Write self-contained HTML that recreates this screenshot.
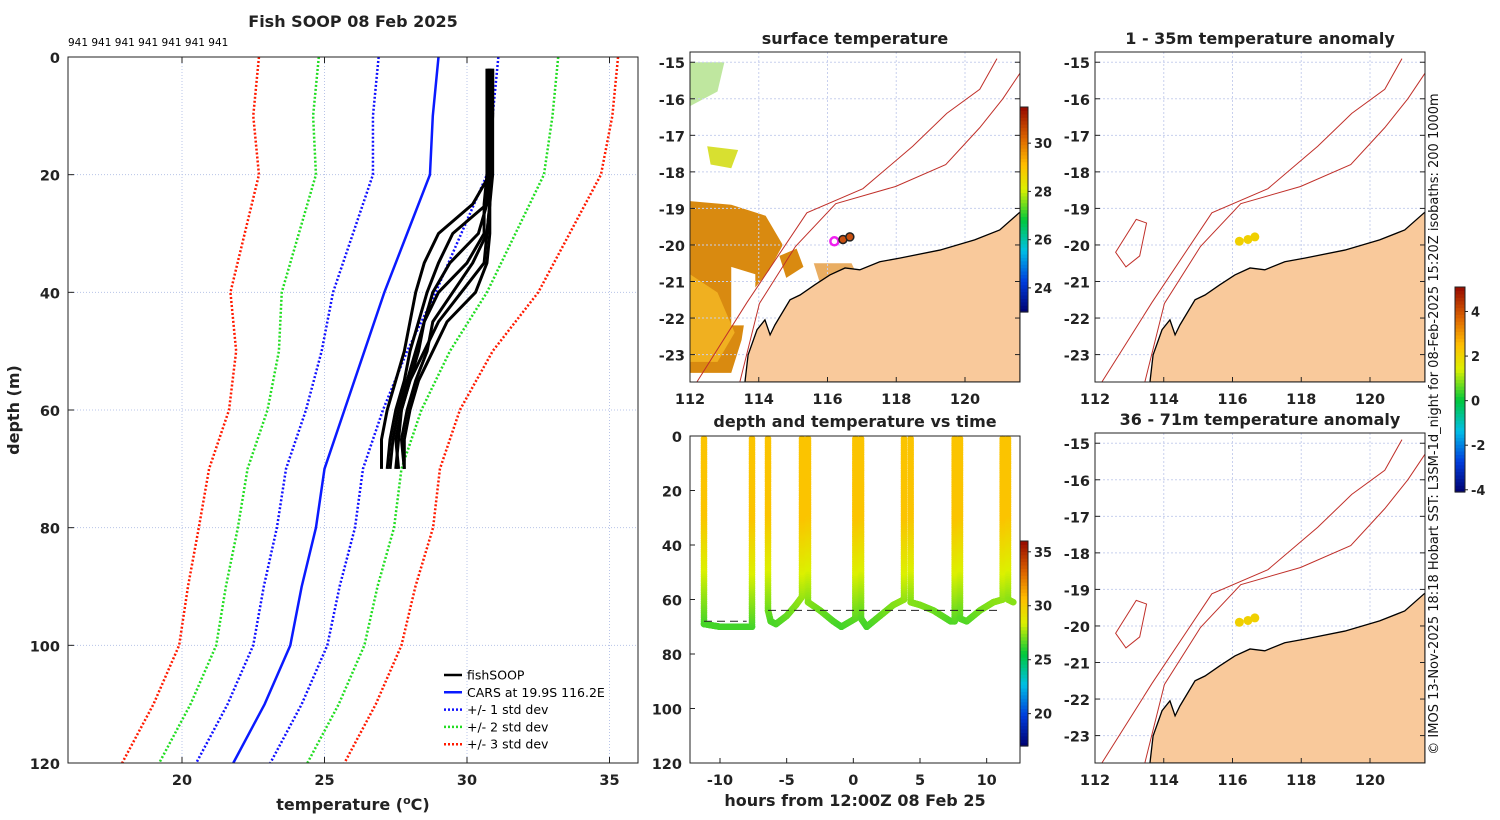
<!DOCTYPE html>
<html><head><meta charset="utf-8"><style>
body{margin:0;background:#fff;width:1500px;height:820px;overflow:hidden}
svg{display:block;font-family:"DejaVu Sans","Liberation Sans",sans-serif}
.t{font-weight:bold;font-size:16px;fill:#222}
.tk{font-weight:bold;font-size:14.5px;fill:#222}
</style></head><body>
<svg id="fig" width="1500" height="820" xmlns="http://www.w3.org/2000/svg"></svg>
<script>
// ---------- profile panel data ----------
const carsDepth=[0,10,20,30,40,50,60,70,80,90,100,110,120];
const carsMean=[29.0,28.8,28.7,27.9,27.1,26.4,25.7,25.0,24.7,24.2,23.8,22.9,21.8];
const carsStd=[2.1,2.1,2.0,1.9,1.8,1.5,1.35,1.35,1.37,1.33,1.3,1.3,1.3];
const profDepth=[2,10,20,25,30,35,40,45,50,55,60,65,70];
const prof1=[30.7,30.8,30.8,30.7,29.5,29.0,28.6,28.3,28.0,27.8,27.5,27.3,27.2];
const prof2=[30.8,30.8,30.7,30.6,30.6,30.0,29.0,28.5,28.2,27.9,27.6,27.4,27.3];
const prof3=[30.9,30.9,30.8,30.8,30.7,30.6,29.8,29.0,28.5,28.0,27.7,27.5,27.6];
const prof4=[30.8,30.8,30.8,30.2,29.0,28.5,28.2,28.0,27.8,27.5,27.2,27.0,27.0];
const prof5=[30.9,30.9,30.9,30.8,30.8,30.7,30.3,29.3,28.8,28.3,28.0,27.8,27.8];
const prof6=[30.7,30.7,30.7,30.7,30.4,29.4,28.8,28.5,28.3,28.0,27.7,27.6,27.5];
const prof7=[30.8,30.8,30.8,30.8,30.7,30.2,29.5,28.8,28.6,28.2,27.9,27.7,27.8];
const tempTicks=[20,25,30,35];
const depthTicks=[0,20,40,60,80,100,120];
// ---------- time-series data ----------
const tsHours=[-11.2,-11.2,-10,-8.5,-7.6,-7.6,-6.4,-6.4,-6.2,-5.8,-5,-4.3,-3.85,-3.85,-3.4,-3.4,-2.5,-1.5,-0.9,0.15,0.15,0.58,0.58,1.0,2,3,3.8,3.8,4.3,4.3,5,6,7.3,7.6,7.6,8.0,8.0,8.5,9.5,10.5,11.2,11.2,11.6,11.6,12];
const tsDepth=[1,69,70,70,70,1,1,64,68,69,66,62,59,1,1,61,64,68,70,67,1,1,67,70,66,62,60,1,1,61,62,64,68,68,1,1,67,68,64,61,60,1,1,60,61];
const hourTicks=[-10,-5,0,5,10];
const tsDepthTicks=[0,20,40,60,80,100,120];
// ---------- map data ----------
const lonTicks=[112,114,116,118,120];
const latTicks=[-15,-16,-17,-18,-19,-20,-21,-22,-23];
const coastLon=[113.6,113.69,113.95,114.18,114.33,114.47,114.91,115.2,115.63,116.07,116.51,116.94,117.52,118.1,119.27,120.28,121.01,121.6];
const coastLat=[-23.74,-23.01,-22.32,-22.05,-22.46,-22.19,-21.5,-21.37,-21.09,-20.82,-20.63,-20.68,-20.46,-20.36,-20.14,-19.86,-19.59,-19.1];
const iso200Lon=[113.45,114.02,115.07,116.24,117.98,119.44,120.43,121.1,121.6];
const iso200Lat=[-23.75,-21.6,-20.04,-18.87,-18.4,-17.8,-16.79,-16.0,-15.3];
const iso1000Lon=[112.2,113.66,115.4,117.03,118.48,119.47,120.43,120.93];
const iso1000Lat=[-23.75,-21.57,-19.12,-18.46,-17.3,-16.4,-15.74,-14.9];
const shipLon=[116.2,116.45,116.65];
const shipLat=[-19.9,-19.85,-19.78];
const cbSST=[24,26,28,30];
const cbTS=[20,25,30,35];
const cbAnom=[-4,-2,0,2,4];

const S=document.getElementById('fig');const NS='http://www.w3.org/2000/svg';
function el(tag,at,parent){const e=document.createElementNS(NS,tag);for(const k in at)e.setAttribute(k,at[k]);(parent||S).appendChild(e);return e;}
function txt(x,y,s,cls,anchor,parent){const e=el('text',{x:x,y:y,class:cls,'text-anchor':anchor||'middle'},parent);e.textContent=s;return e;}

const stops=[[0,[0,0,110]],[0.15,[0,60,220]],[0.3,[0,190,230]],[0.45,[0,200,60]],[0.6,[220,240,0]],[0.72,[255,190,0]],[0.85,[220,100,0]],[1,[150,10,0]]];
function cmap(f){f=Math.max(0,Math.min(1,f));for(let i=1;i<stops.length;i++){if(f<=stops[i][0]){const a=stops[i-1],b=stops[i];const u=(f-a[0])/(b[0]-a[0]);const c=a[1].map((v,j)=>Math.round(v+(b[1][j]-v)*u));return `rgb(${c})`;}}return 'rgb(150,10,0)';}
function colorbar(x,y,w,h,vmin,vmax,ticks,name){
  const g=el('g',{});
  const n=60;for(let i=0;i<n;i++){el('rect',{x:x,y:y+h-(i+1)*h/n,width:w,height:h/n+0.6,fill:cmap((i+0.5)/n)},g);}
  el('rect',{x:x,y:y,width:w,height:h,fill:'none',stroke:'#222','stroke-width':1},g);
  ticks.forEach(t=>{const yy=y+h-(t-vmin)/(vmax-vmin)*h;el('line',{x1:x+w,x2:x+w+3,y1:yy,y2:yy,stroke:'#222'},g);txt(x+w+6,yy+5,t,'tk','start',g).setAttribute('style','font-size:13px');});
}

// ================= LEFT PROFILE PANEL =================
const L={x0:68,x1:638,y0:57,y1:763,tmin:16,tmax:36,dmax:120};
const tx=t=>L.x0+(t-L.tmin)/(L.tmax-L.tmin)*(L.x1-L.x0);
const dy=d=>L.y0+d/L.dmax*(L.y1-L.y0);
txt(353,27,'Fish SOOP 08 Feb 2025','t');
const sn=txt(68,46,'941 941 941 941 941 941 941','','start');sn.setAttribute('style','font-size:10.5px');
const gl=el('g',{});
tempTicks.forEach(t=>el('line',{x1:tx(t),x2:tx(t),y1:L.y0,y2:L.y1,stroke:'#b8c4e8','stroke-dasharray':'1 2'},gl));
depthTicks.forEach(d=>el('line',{x1:L.x0,x2:L.x1,y1:dy(d),y2:dy(d),stroke:'#b8c4e8','stroke-dasharray':'1 2'},gl));
function pl(ts,ds,col,w,dash,name){const p=el('polyline',{points:ts.map((t,i)=>tx(t)+','+dy(ds[i])).join(' '),fill:'none',stroke:col,'stroke-width':w,'stroke-dasharray':dash||'none','stroke-linejoin':'round'});return p;}
[[3,'#ff1a00','std3'],[2,'#22dd22','std2'],[1,'#1010ff','std1']].forEach(([k,c,n])=>{
  pl(carsMean.map((m,i)=>m-k*carsStd[i]),carsDepth,c,2.5,'2 2',n+'-minus-line');
  pl(carsMean.map((m,i)=>m+k*carsStd[i]),carsDepth,c,2.5,'2 2',n+'-plus-line');
});
pl(carsMean,carsDepth,'#0a1aff',2.5,null,'cars-mean-line');
[prof1,prof2,prof3,prof4,prof5,prof6,prof7].forEach((p,i)=>pl(p,profDepth,'#000',3,null,'fishsoop-profile-'+(i+1)));
el('rect',{x:L.x0,y:L.y0,width:L.x1-L.x0,height:L.y1-L.y0,fill:'none',stroke:'#222'});
tempTicks.forEach(t=>{el('line',{x1:tx(t),x2:tx(t),y1:L.y0,y2:L.y0+6,stroke:'#222'});el('line',{x1:tx(t),x2:tx(t),y1:L.y1,y2:L.y1-6,stroke:'#222'});txt(tx(t),785,t,'tk');});
depthTicks.forEach(d=>{el('line',{x1:L.x0,x2:L.x0+6,y1:dy(d),y2:dy(d),stroke:'#222'});txt(60,dy(d)+6,d,'tk','end');});
const xl=el('text',{x:353,y:810,class:'t','text-anchor':'middle'});xl.innerHTML='temperature (<tspan dy="-6" font-size="11">o</tspan><tspan dy="6">C)</tspan>';
const yl=txt(0,0,'depth (m)','t');yl.setAttribute('transform','translate(19,410) rotate(-90)');
const lg=el('g',{});
[['fishSOOP','#000',null],['CARS at 19.9S 116.2E','#0a1aff',null],['+/- 1 std dev','#1010ff','2 2'],['+/- 2 std dev','#22dd22','2 2'],['+/- 3 std dev','#ff1a00','2 2']].forEach(([s,c,d],i)=>{
  const y=675+i*17.3;const e=el('g',{},lg);
  el('line',{x1:444,x2:462,y1:y,y2:y,stroke:c,'stroke-width':2.5,'stroke-dasharray':d||'none'},e);
  txt(467,y+4.5,s,'','start',e).setAttribute('style','font-size:12.5px');
});

// ================= MAPS =================
const MW=330,MH=330,LON0=112,LON1=121.6,LAT0=-14.72,LAT1=-23.75;
function mapPanel(ox,oy,title,name,kind){
  const g=el('g',{});
  const X=lo=>ox+(lo-LON0)/(LON1-LON0)*MW, Y=la=>oy+(la-LAT0)/(LAT1-LAT0)*MH;
  txt(ox+MW/2,oy-8,title,'t','middle',g);
  const cp='clip'+name;const c=el('clipPath',{id:cp},g);el('rect',{x:ox,y:oy,width:MW,height:MH},c);
  const inner=el('g',{'clip-path':`url(#${cp})`},g);
  if(kind==='sst'){
    const sg=el('g',{},inner);
    el('path',{d:`M${X(112)} ${Y(-18.8)} L${X(113.2)} ${Y(-18.9)} L${X(114.2)} ${Y(-19.2)} L${X(114.7)} ${Y(-20)} L${X(114.3)} ${Y(-20.7)} L${X(113.7)} ${Y(-21.4)} L${X(113.5)} ${Y(-22.6)} L${X(113.2)} ${Y(-23.5)} L${X(112)} ${Y(-23.5)} Z`,fill:'#d98a10'},sg);
    el('path',{d:`M${X(112)} ${Y(-20.8)} L${X(112.8)} ${Y(-21.3)} L${X(113.3)} ${Y(-22.4)} L${X(112.8)} ${Y(-23.2)} L${X(112)} ${Y(-23.2)} Z`,fill:'#f0b020'},sg);
    el('path',{d:`M${X(113.2)} ${Y(-20.6)} L${X(113.9)} ${Y(-20.8)} L${X(113.9)} ${Y(-22.2)} L${X(113.2)} ${Y(-22.2)} Z`,fill:'#fff'},sg);
    el('path',{d:`M${X(112.5)} ${Y(-17.3)} L${X(113.4)} ${Y(-17.4)} L${X(113.2)} ${Y(-17.9)} L${X(112.6)} ${Y(-17.8)} Z`,fill:'#d8e030'},sg);
    el('path',{d:`M${X(114.6)} ${Y(-20.3)} L${X(115.1)} ${Y(-20.1)} L${X(115.3)} ${Y(-20.6)} L${X(114.8)} ${Y(-20.9)} Z`,fill:'#d98a10'},sg);
    el('path',{d:`M${X(115.6)} ${Y(-20.5)} L${X(116.7)} ${Y(-20.5)} L${X(116.9)} ${Y(-20.9)} L${X(115.8)} ${Y(-21.1)} Z`,fill:'#e08a20','opacity':0.7},sg);
    el('path',{d:`M${X(112)} ${Y(-15)} L${X(113)} ${Y(-15)} L${X(112.8)} ${Y(-15.8)} L${X(112)} ${Y(-16.2)} Z`,fill:'#80d040','opacity':0.5},sg);
  }
  const grid=el('g',{},inner);
  lonTicks.forEach(l=>el('line',{x1:X(l),x2:X(l),y1:oy,y2:oy+MH,stroke:'#c8d0ee','stroke-dasharray':'2 2'},grid));
  latTicks.forEach(l=>el('line',{x1:ox,x2:ox+MW,y1:Y(l),y2:Y(l),stroke:'#c8d0ee','stroke-dasharray':'2 2'},grid));
  const land=el('path',{d:'M'+coastLon.map((l,i)=>X(l)+' '+Y(coastLat[i])).join(' L')+` L${ox+MW} ${oy+MH} L${X(113.6)} ${oy+MH} Z`,fill:'#f9c99b',stroke:'#000','stroke-width':1.3},inner);
  [[iso200Lon,iso200Lat,'isobath-200m'],[iso1000Lon,iso1000Lat,'isobath-1000m']].forEach(([a,b,n])=>{const p=el('polyline',{points:a.map((l,i)=>X(l)+','+Y(b[i])).join(' '),fill:'none',stroke:'#c0302a','stroke-width':1},inner);});
  if(kind!=='sst'){el('path',{d:`M${X(112.6)} ${Y(-20.2)} L${X(113.2)} ${Y(-19.3)} L${X(113.5)} ${Y(-19.4)} L${X(113.3)} ${Y(-20.3)} L${X(112.9)} ${Y(-20.6)} Z`,fill:'none',stroke:'#c0302a'},inner);}
  const shp=el('g',{},inner);
  shipLon.forEach((l,i)=>{ if(kind==='sst') el('circle',{cx:X(l),cy:Y(shipLat[i]),r:4,fill:i==0?'none':'#c85010',stroke:i==0?'#f020f0':'#222','stroke-width':i==0?2.5:1.5},shp);
    else el('circle',{cx:X(l),cy:Y(shipLat[i]),r:4.5,fill:'#f0d000'},shp);});
  el('rect',{x:ox,y:oy,width:MW,height:MH,fill:'none',stroke:'#222'},g);
  lonTicks.forEach(l=>{el('line',{x1:X(l),x2:X(l),y1:oy+MH,y2:oy+MH-5,stroke:'#222'},g);txt(X(l),oy+MH+22,l,'tk','middle',g);});
  latTicks.forEach(l=>{el('line',{x1:ox,x2:ox+5,y1:Y(l),y2:Y(l),stroke:'#222'},g);el('line',{x1:ox+MW,x2:ox+MW-5,y1:Y(l),y2:Y(l),stroke:'#222'},g);txt(ox-5,Y(l)+6,l,'tk','end',g);});
}
mapPanel(690,52,'surface temperature','sst-map','sst');
mapPanel(1095,52,'1 - 35m temperature anomaly','anomaly-map-shallow','anom');
mapPanel(1095,433,'36 - 71m temperature anomaly','anomaly-map-deep','anom');
colorbar(1020,107,8,205,23,31.5,cbSST,'sst-colorbar');
colorbar(1455,287,10,205,-4.1,5.1,cbAnom,'anomaly-colorbar');

// ================= DEPTH-TIME PANEL =================
const T={x0:690,x1:1020,y0:436,y1:763,hmin:-12.25,hmax:12.5};
const hx=h=>T.x0+(h-T.hmin)/(T.hmax-T.hmin)*(T.x1-T.x0);
const ty=d=>T.y0+d/120*(T.y1-T.y0);
txt(855,427,'depth and temperature vs time','t');
const tsg=el('g',{});
const tempOf=d=>d<30?30.4:(d<70?30.4-(d-30)/40*4:26.4);
for(let i=1;i<tsHours.length;i++){
  if(tsDepth[i]<3&&tsDepth[i-1]<3)continue;
  const n=Math.max(3,Math.round(Math.abs(tsDepth[i]-tsDepth[i-1])*1.2)+Math.round(Math.abs(tsHours[i]-tsHours[i-1])*20));
  for(let k=0;k<=n;k++){const u=k/n;const h=tsHours[i-1]+(tsHours[i]-tsHours[i-1])*u;const d=tsDepth[i-1]+(tsDepth[i]-tsDepth[i-1])*u;
    el('circle',{cx:hx(h),cy:ty(d),r:3.3,fill:cmap((tempOf(d)-17)/(36-17))},tsg);}
}
el('polyline',{points:[[-11.2,68],[-8,68]].map(p=>hx(p[0])+','+ty(p[1])).join(' '),stroke:'#222','stroke-dasharray':'8 5',fill:'none'},tsg);
el('polyline',{points:[[-6.4,64],[11,64]].map(p=>hx(p[0])+','+ty(p[1])).join(' '),stroke:'#222','stroke-dasharray':'8 5',fill:'none'},tsg);
el('rect',{x:T.x0,y:T.y0,width:T.x1-T.x0,height:T.y1-T.y0,fill:'none',stroke:'#222'});
hourTicks.forEach(h=>{el('line',{x1:hx(h),x2:hx(h),y1:T.y1,y2:T.y1-5,stroke:'#222'});txt(hx(h),785,h,'tk');});
tsDepthTicks.forEach(d=>{el('line',{x1:T.x0,x2:T.x0+5,y1:ty(d),y2:ty(d),stroke:'#222'});txt(682,ty(d)+6,d,'tk','end');});
txt(855,806,'hours from 12:00Z 08 Feb 25','t');
colorbar(1020,541,8,205,17,36,cbTS,'timeseries-colorbar');

const cr=txt(0,0,'© IMOS 13-Nov-2025 18:18 Hobart SST: L3SM-1d_night for 08-Feb-2025 15:20Z isobaths: 200  1000m','','middle');
cr.setAttribute('transform','translate(1438,424) rotate(-90)');cr.setAttribute('style','font-size:13px;fill:#111');
</script>
</body></html>
